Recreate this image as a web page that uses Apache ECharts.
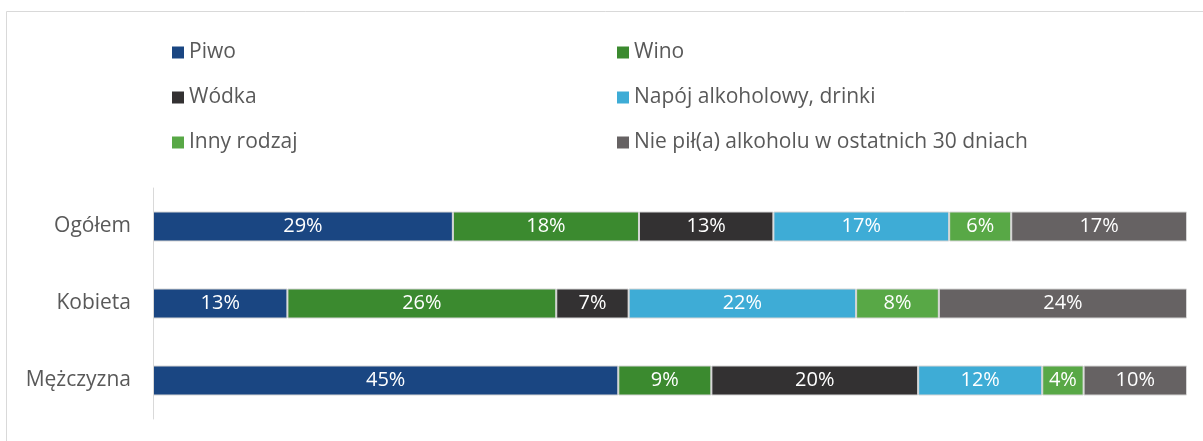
<!DOCTYPE html>
<html>
<head>
<meta charset="utf-8">
<script src="https://cdn.jsdelivr.net/npm/echarts@6/dist/echarts.min.js"></script>
<style>
  html, body { margin: 0; padding: 0; background: #fff; }
  #chart { width: 1203px; height: 441px; }
</style>
</head>
<body>
<div id="chart"></div>
<script>
// kategorie (od góry)
var categories = ['Ogółem', 'Kobieta', 'Mężczyzna'];
var seriesNames = ['Piwo', 'Wino', 'Wódka', 'Napój alkoholowy, drinki', 'Inny rodzaj', 'Nie pił(a) alkoholu w ostatnich 30 dniach'];
var piwo = [29, 13, 45];
var wino = [18, 26, 9];
var wodka = [13, 7, 20];
var napoj = [17, 22, 12];
var inny = [6, 8, 4];
var niePil = [17, 24, 10];
var colors = ['#1a4682', '#3b8a2f', '#333132', '#3eacd6', '#58a846', '#666263'];

var values = [piwo, wino, wodka, napoj, inny, niePil];
var font = 'Open Sans';

var series = seriesNames.map(function (name, i) {
  return {
    name: name,
    type: 'bar',
    stack: 'total',
    data: values[i],
    barWidth: 30,
    itemStyle: { color: colors[i], borderColor: '#d6d6d6', borderWidth: 1 },
    label: {
      show: true,
      position: 'inside',
      color: '#fff',
      fontFamily: font,
      fontSize: 20,
      formatter: '{c}%'
    }
  };
});

var legendText = { color: '#595959', fontFamily: font, fontSize: 21 };
var legendCommon = {
  orient: 'vertical',
  top: 37,
  icon: 'rect',
  itemWidth: 12,
  itemHeight: 12,
  itemGap: 24,
  itemStyle: { borderWidth: 0 },
  textStyle: legendText
};

var option = {
  backgroundColor: '#fff',
  animation: false,
  graphic: [{
    type: 'rect',
    shape: { x: 6.5, y: 11.5, width: 1300, height: 600 },
    style: { fill: 'none', stroke: '#d9d9d9', lineWidth: 1 },
    silent: true
  }],
  legend: [
    Object.assign({}, legendCommon, { left: 167, data: [seriesNames[0], seriesNames[2], seriesNames[4]] }),
    Object.assign({}, legendCommon, { left: 612, data: [seriesNames[1], seriesNames[3], seriesNames[5]] })
  ],
  grid: {
    left: 153,
    right: 16,
    top: 188,
    bottom: 22,
    containLabel: false
  },
  xAxis: {
    type: 'value',
    min: 0,
    max: 100,
    show: false
  },
  yAxis: {
    type: 'category',
    data: categories,
    inverse: true,
    axisLine: { show: true, lineStyle: { color: '#d9d9d9', width: 1 } },
    axisTick: { show: false },
    axisLabel: {
      color: '#595959',
      fontFamily: font,
      fontSize: 21,
      margin: 22
    }
  },
  series: series
};

var chart = echarts.init(document.getElementById('chart'));
chart.setOption(option);
</script>
</body>
</html>
